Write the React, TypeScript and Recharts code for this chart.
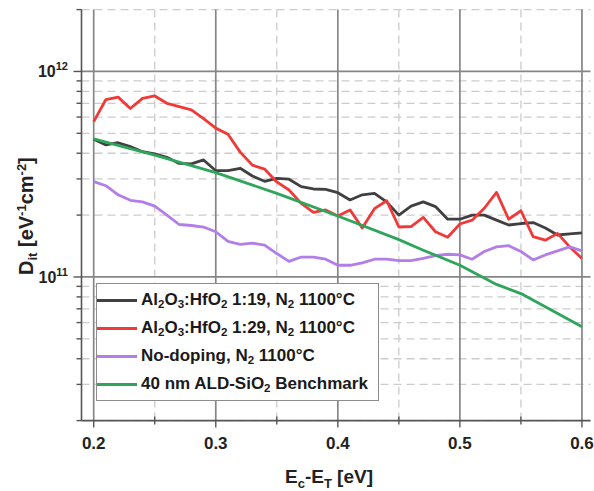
import React from 'react';
import { LineChart, Line, XAxis, YAxis, CartesianGrid, Legend } from 'recharts';

// ── Data (Dit in units of 1e11 eV^-1 cm^-2) ─────────────────
const energies = [
  0.2, 0.21, 0.22, 0.23, 0.24, 0.25, 0.26, 0.27, 0.28, 0.29,
  0.3, 0.31, 0.32, 0.33, 0.34, 0.35, 0.36, 0.37, 0.38, 0.39,
  0.4, 0.41, 0.42, 0.43, 0.44, 0.45, 0.46, 0.47, 0.48, 0.49,
  0.5, 0.51, 0.52, 0.53, 0.54, 0.55, 0.56, 0.57, 0.58, 0.59, 0.6,
];

const dit119 = [
  4.68, 4.39, 4.5, 4.31, 4.07, 3.97, 3.82, 3.57, 3.55, 3.71,
  3.29, 3.29, 3.38, 3.1, 2.92, 3.02, 2.99, 2.75, 2.68, 2.67,
  2.57, 2.37, 2.51, 2.55, 2.32, 2.0, 2.21, 2.32, 2.2, 1.91,
  1.91, 2.0, 2.0, 1.89, 1.79, 1.82, 1.84, 1.73, 1.6, 1.62, 1.64,
];

const dit129 = [
  5.7, 7.3, 7.5, 6.6, 7.4, 7.6, 7.0, 6.75, 6.5, 5.9,
  5.3, 4.95, 4.05, 3.5, 3.35, 2.9, 2.65, 2.28, 2.06, 2.12,
  1.98, 2.12, 1.73, 2.15, 2.35, 1.75, 1.76, 1.95, 1.66, 1.56,
  1.81, 1.89, 2.16, 2.58, 1.91, 2.1, 1.57, 1.51, 1.63, 1.4, 1.23,
];

const ditUndoped = [
  2.91, 2.78, 2.51, 2.36, 2.32, 2.21, 2.0, 1.8, 1.78, 1.75,
  1.66, 1.49, 1.44, 1.46, 1.43, 1.3, 1.19, 1.25, 1.25, 1.22,
  1.14, 1.14, 1.17, 1.22, 1.22, 1.2, 1.2, 1.23, 1.27, 1.29,
  1.28, 1.22, 1.33, 1.4, 1.42, 1.33, 1.21, 1.28, 1.34, 1.4, 1.34,
];

const benchEnergies = [0.2, 0.25, 0.3, 0.35, 0.4, 0.45, 0.47, 0.5, 0.53, 0.55, 0.6];
const ditBench = [4.7, 3.92, 3.22, 2.55, 1.98, 1.52, 1.35, 1.14, 0.92, 0.83, 0.573];

const xMajorTicks = [0.2, 0.3, 0.4, 0.5, 0.6];
const xMinorTicks = [0.25, 0.35, 0.45, 0.55];
const yMajorTicks = [1e11, 1e12];
const yMinorTicks = [
  2e10, 3e10, 4e10, 5e10, 6e10, 7e10, 8e10, 9e10,
  2e11, 3e11, 4e11, 5e11, 6e11, 7e11, 8e11, 9e11, 2e12,
];

// ── Styling ─────────────────────────────────────────────────
const FONT = "'Liberation Sans', Arial, sans-serif";
const FRAME = '#555555';
const X_DOMAIN: [number, number] = [0.19, 0.607];
const Y_DOMAIN: [number, number] = [2e10, 2e12];

const SERIES = [
  { id: 'r119', label: 'Al_2O_3:HfO_2 1:19, N_2 1100°C', color: '#404040', x: energies, y: dit119 },
  { id: 'r129', label: 'Al_2O_3:HfO_2 1:29, N_2 1100°C', color: '#f03a3a', x: energies, y: dit129 },
  { id: 'undoped', label: 'No-doping, N_2 1100°C', color: '#b27ee8', x: energies, y: ditUndoped },
  { id: 'bench', label: '40 nm ALD-SiO_2 Benchmark', color: '#2ea55a', x: benchEnergies, y: ditBench },
];

const toPoints = (xs: number[], ys: number[]) => xs.map((x, i) => ({ x, dit: ys[i] * 1e11 }));

const isDecade = (v: number) => Math.abs(Math.log10(v) - Math.round(Math.log10(v))) < 1e-6;

// "Al_2O_3" -> Al<sub>2</sub>O<sub>3</sub>
function withSubs(s: string) {
  return s.split(/_(\d)/).map((part, i) =>
    i % 2 === 1
      ? <span key={i} style={{ fontSize: '0.68em', verticalAlign: '-0.3em', lineHeight: 0 }}>{part}</span>
      : <span key={i}>{part}</span>
  );
}

// ── Axis pieces ─────────────────────────────────────────────
function YTick(props: any) {
  const { x, y, payload, side } = props;
  const v = payload.value;
  const major = isDecade(v);
  const dir = side === 'left' ? -1 : 1;
  const len = side === 'left' ? (major ? 8 : 5) : 5;
  return (
    <g>
      <line x1={x} x2={x + dir * len} y1={y} y2={y} stroke={FRAME} strokeWidth={1.4} />
      {side === 'left' && major && (
        <text x={x - 13.5} y={y + 6} textAnchor="end" fontFamily={FONT} fontWeight="bold" fontSize={16} fill="#222">
          <tspan>10</tspan>
          <tspan dy={-7} fontSize={11}>{Math.round(Math.log10(v))}</tspan>
        </text>
      )}
    </g>
  );
}

function XTick(props: any) {
  const { x, y, payload } = props;
  const v = payload.value;
  const major = Math.abs(v * 10 - Math.round(v * 10)) < 1e-6;
  return (
    <g>
      <line x1={x} x2={x} y1={major ? y : y - 4} y2={y + (major ? 7 : 4)} stroke={FRAME} strokeWidth={1.4} />
      {major && (
        <text x={x} y={y + 28.5} textAnchor="middle" fontFamily={FONT} fontWeight="bold" fontSize={17} fill="#222">
          {v.toFixed(1)}
        </text>
      )}
    </g>
  );
}

function YTitle(props: any) {
  const { viewBox } = props;
  const cx = viewBox.x + 33;
  const cy = viewBox.y + viewBox.height / 2 + 1;
  return (
    <text x={cx} y={cy} transform={`rotate(-90 ${cx} ${cy})`} textAnchor="middle"
      fontFamily={FONT} fontWeight="bold" fontSize={20} fill="#222">
      <tspan>D</tspan>
      <tspan dy={4} fontSize={13}>it</tspan>
      <tspan dy={-4}> [eV</tspan>
      <tspan dy={-7} fontSize={13}>-1</tspan>
      <tspan dy={7}>cm</tspan>
      <tspan dy={-7} fontSize={13}>-2</tspan>
      <tspan dy={7}>]</tspan>
    </text>
  );
}

function XTitle(props: any) {
  const { viewBox } = props;
  const cx = viewBox.x + viewBox.width / 2 - 7;
  const cy = viewBox.y + 62;
  return (
    <text x={cx} y={cy} textAnchor="middle" fontFamily={FONT} fontWeight="bold" fontSize={19} fill="#222">
      <tspan>E</tspan>
      <tspan dy={5} fontSize={13}>c</tspan>
      <tspan dy={-5}>-E</tspan>
      <tspan dy={5} fontSize={13}>T</tspan>
      <tspan dy={-5}> [eV]</tspan>
    </text>
  );
}

function LegendBox() {
  return (
    <div style={{
      width: 281, height: 114, border: '1px solid #8c8c8c', background: '#fff',
      boxSizing: 'content-box', paddingTop: 2, fontFamily: FONT, fontWeight: 'bold',
      fontSize: 17, color: '#1a1a1a', textAlign: 'left',
    }}>
      {SERIES.map(s => (
        <div key={s.id} style={{ display: 'flex', alignItems: 'center', height: 28 }}>
          <span style={{ width: 40, height: 3, background: s.color, marginRight: 4, flexShrink: 0 }} />
          <span style={{ whiteSpace: 'nowrap', lineHeight: '18px' }}>{withSubs(s.label)}</span>
        </div>
      ))}
    </div>
  );
}

export default function App() {
  return (
    <div style={{ position: 'absolute', left: 0, top: 0, width: 594, height: 491, background: '#fff' }}>
      <LineChart width={594} height={491} margin={{ top: 9.6, right: 3.5, bottom: 0, left: 0 }}>
        <CartesianGrid horizontalValues={yMinorTicks} verticalValues={xMinorTicks}
          stroke="#cccccc" strokeWidth={1.3} strokeDasharray="8 5" />
        <CartesianGrid horizontalValues={yMajorTicks} verticalValues={xMajorTicks}
          stroke="#868686" strokeWidth={1.7} />
        <XAxis type="number" dataKey="x" domain={X_DOMAIN} allowDataOverflow ticks={[...xMajorTicks, ...xMinorTicks]}
          interval={0} tick={<XTick />} tickLine={false} tickSize={0} tickMargin={0} height={70.4}
          axisLine={{ stroke: FRAME, strokeWidth: 1.6 }} label={<XTitle />} />
        <XAxis xAxisId="top" orientation="top" type="number" domain={X_DOMAIN} allowDataOverflow height={0}
          tick={false} tickLine={false} axisLine={{ stroke: FRAME, strokeWidth: 1.6 }} />
        <YAxis scale="log" domain={Y_DOMAIN} allowDataOverflow ticks={[...yMajorTicks, ...yMinorTicks]}
          interval={0} tick={<YTick side="left" />} tickLine={false} tickSize={0} tickMargin={0} width={81.5}
          axisLine={{ stroke: FRAME, strokeWidth: 1.6 }} label={<YTitle />} />
        <YAxis yAxisId="right" orientation="right" scale="log" domain={Y_DOMAIN} allowDataOverflow
          ticks={[...yMajorTicks, ...yMinorTicks]} interval={0} tick={<YTick side="right" />} tickLine={false}
          tickSize={0} tickMargin={0} width={0} axisLine={{ stroke: FRAME, strokeWidth: 1.6 }} />
        {SERIES.map(s => (
          <Line key={s.id} data={toPoints(s.x, s.y)} dataKey="dit" name={s.id} type="linear"
            stroke={s.color} strokeWidth={2.8} strokeLinejoin="round" dot={false} isAnimationActive={false} />
        ))}
        <Legend layout="vertical" align="center" verticalAlign="middle" content={<LegendBox />}
          wrapperStyle={{ left: 96, top: 283, width: 'auto' }} />
      </LineChart>
    </div>
  );
}
